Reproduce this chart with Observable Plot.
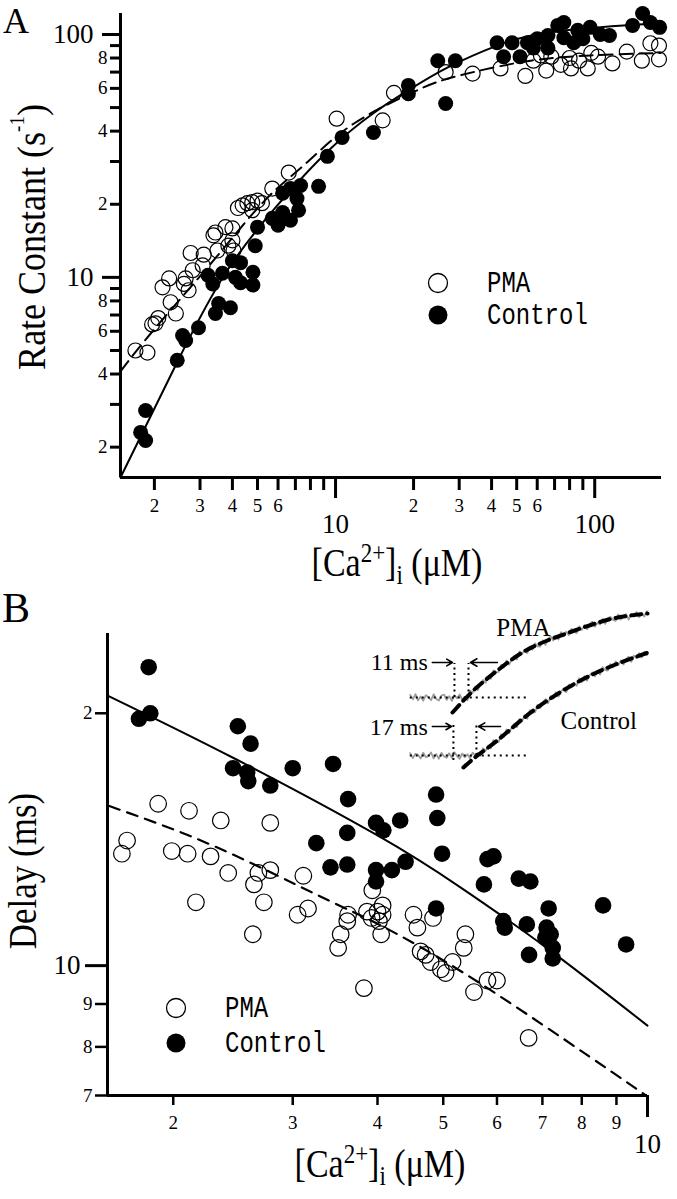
<!DOCTYPE html>
<html>
<head>
<meta charset="utf-8">
<script src="https://cdn.jsdelivr.net/npm/d3@7"></script>
<script src="https://cdn.jsdelivr.net/npm/@observablehq/plot@0.6"></script>
<style>
html,body{margin:0;padding:0;background:#fff;}
#fig{position:relative;width:677px;height:1199px;overflow:hidden;background:#fff;}
#fig > svg{position:absolute;}
</style>
</head>
<body>
<div id="fig"></div>
<script>
const serif = '"Liberation Serif", "Times New Roman", serif';
const mono = '"Liberation Mono", "DejaVu Sans Mono", monospace';
const seriesNames = ["PMA", "Control"];

// ---------- Panel A: rate constant (s^-1) vs [Ca2+]i (uM) ----------
const rateControl = [
  [1.85,2.83],[1.77,2.30],[1.85,2.13],[2.45,4.56],[2.57,5.76],[2.64,5.5],[2.96,6.2],[3.44,7.1],
  [3.93,7.5],[3.54,7.8],[3.36,9.4],[3.22,10.2],[3.66,10.4],[4.11,10.0],[4.3,11.5],[4.0,11.7],
  [4.8,10.5],[4.8,9.3],[4.3,9.5],[4.9,13.5],[5.0,16.1],[6.0,16.4],[5.7,17.5],[6.25,18.5],
  [7.2,18.9],[6.7,17.2],[6.25,22.2],[6.7,23.2],[7.33,23.9],[7.1,21.1],[8.6,23.7],[9.3,31.5],
  [10.6,37.7],[14,39.5],[19.1,61.7],[19.1,57],[26.6,52],[24.8,78],[29,78],[42,92.5],
  [48,92.5],[44.5,81],[51.5,81],[55,92.5],[60,96],[66,99],[72,109],[76,112],[76,97],
  [86,104],[90,96],[96,107],[105,100],[114,99],[140,109],[153,122],[164,112],[178,107],
  [58,88],[66,88],[83,92.5]
];
const ratePMA = [
  [1.69,5.0],[1.88,4.9],[2.02,6.47],[2.07,6.8],[1.96,6.4],[2.31,7.9],[2.42,7.1],[2.15,9.1],
  [2.28,9.9],[2.64,9.9],[2.71,8.85],[2.6,9.4],[2.81,10.7],[2.76,12.6],[3.1,12.4],[3.07,11.2],
  [3.38,14.9],[3.44,15.3],[3.5,12.9],[3.76,16.1],[4.0,15.9],[3.86,13.5],[4.0,14.2],[4.04,12.9],
  [4.38,19.8],[4.2,19.3],[4.57,20.2],[4.77,20.4],[4.77,18.9],[5.0,20.7],[5.2,20.2],[5.7,23.2],
  [6.6,27],[10.1,45],[15.2,44.3],[16.8,57.5],[26.6,70],[33.8,69],[43.3,72.5],[54,67.5],
  [58,78],[62,82],[65,71],[68,81],[74,75],[80,80],[81,72.5],[87,78],[94,72.5],[97,84],
  [103,81],[117,76],[133,85],[152,78],[164,92],[177,90],[177,79]
];
const rateFitControl = [[1.48,1.5],[2.47,4.56],[3.76,10.4],[5.87,19.4],[9.4,33.3],[14,47.4],[19.1,58.9],[27,73],[42,90],[66,102],[129,109],[180,111]];
const rateFitPMA = [[1.48,4.1],[2.02,6.2],[3.44,12.0],[5.35,20.8],[7.7,29.5],[11.7,42.8],[20,58],[25.5,64.5],[34,70],[56.6,78],[96.6,82],[180,84]];
const rateCaDomain = [1.48, 181];
const rateDomain = [1.5, 122];
const rateXMinorTicks = [2,3,4,5,6,7,8,9,20,30,40,50,60,70,80,90];
const rateXMinorLabels = ["2","3","4","5","6","","","","2","3","4","5","6","","",""];
const rateXMajorTicks = [10, 100];
const rateXMajorLabels = ["10", "100"];
const rateYMinorTicks = [2,3,4,5,6,7,8,9,20,30,40,50,60,70,80,90];
const rateYMinorLabels = ["2","","4","","6","","8","","2","","4","","6","","8",""];
const rateYMajorTicks = [10, 100];
const rateYMajorLabels = ["10", "100"];

// ---------- Panel B: delay (ms) vs [Ca2+]i (uM) ----------
const delayControl = [
  [1.84,22.7],[1.78,19.7],[1.85,20.0],[2.49,19.3],[2.60,18.4],[2.45,17.2],[2.57,17.0],[2.58,16.6],
  [2.78,16.4],[3.0,17.2],[3.44,17.4],[3.62,15.8],[3.61,14.4],[3.61,13.2],[3.25,14.0],[3.41,13.1],
  [3.98,14.8],[4.08,14.5],[4.32,14.9],[3.98,13.0],[3.98,12.6],[4.2,13.0],[4.4,13.3],[4.88,16.0],
  [4.9,15.0],[4.98,13.6],[5.81,13.4],[5.93,13.5],[5.74,12.5],[6.46,12.7],[6.72,12.6],[7.15,11.7],
  [8.6,11.8],[9.3,10.6],[4.88,11.7],[6.13,11.3],[6.16,11.1],[6.64,11.2],[7.1,11.1],[7.2,10.9],
  [7.07,10.8],[7.25,10.5],[7.25,10.2],[6.69,10.3]
];
const delayPMA = [
  [1.90,15.6],[2.11,15.3],[2.35,14.9],[2.78,14.8],[1.71,14.1],[1.68,13.6],[1.99,13.7],[2.10,13.6],
  [2.27,13.5],[2.41,12.9],[2.67,12.9],[2.78,13.0],[2.63,12.5],[2.72,11.9],[2.16,11.9],[2.62,10.9],
  [3.11,12.8],[3.05,11.5],[3.16,11.7],[3.62,11.5],[3.61,11.3],[3.53,10.9],[3.50,10.5],[3.82,9.4],
  [3.93,12.3],[3.86,11.6],[3.92,11.4],[4.0,11.6],[4.07,11.5],[4.05,10.9],[4.02,11.3],[4.07,11.8],
  [4.52,11.5],[4.58,11.1],[4.83,11.4],[4.63,10.4],[4.71,10.3],[4.79,10.1],[4.96,9.9],[5.04,9.8],
  [5.16,10.1],[5.39,10.9],[5.36,10.5],[5.55,9.3],[5.81,9.6],[6.0,9.6],[6.68,8.2]
];
const delayFitControl = [[1.6,21.0],[2.45,17.7],[4.0,14.3],[5.3,12.4],[7.1,10.5],[10,8.48]];
const delayFitPMA = [[1.61,15.5],[2.29,13.9],[3.29,12.1],[4.06,11.15],[5.36,9.8],[7.6,8.13],[9.95,7.0]];
const delayCaDomain = [1.6, 10];
const delayDomain = [7, 24.9];
const delayXMinorTicks = [2,3,4,5,6,7,8,9];
const delayXMinorLabels = ["2","3","4","5","6","7","8","9"];
const delayXMajorTicks = [10];
const delayXMajorLabels = ["10"];
const delayYMinorTicks = [7,8,9,20];
const delayYMinorLabels = ["7","8","9","2"];
const delayYMajorTicks = [10];
const delayYMajorLabels = ["10"];

// ---------- Inset: current traces (time in ms, current in a.u.), sampled every 2 ms ----------
const pmaTraceStart = -34, controlTraceStart = -34, traceStep = 2;
const pmaTraceValues = [
  42.8,40.6,43.2,40.1,42.0,39.9,42.7,41.7,40.2,43.1,40.8,40.0,42.5,42.9,40.3,42.1,39.8,42.6,41.1,43.0,40.5,41.8,40.1,
  45.0,43.8,47.0,45.2,48.3,50.3,49.0,52.0,50.8,55.0,54.2,54.3,57.8,56.5,60.0,58.0,60.4,62.2,60.5,64.5,
  63.2,65.4,63.7,67.0,65.4,68.6,67.1,67.0,70.1,67.8,70.8,72.0,70.0,72.0,70.5,74.2,72.1,74.4,72.7,75.8,
  74.4,73.7,77.1,75.3,77.7,75.6,78.0,79.4,76.9,78.9,78.0,80.8,78.3,81.1,81.8,80.3,79.8,83.0,80.5,82.2,
  83.2,80.5,83.3,82.0,84.2,81.7,83.9,82.0,84.6
];
const controlTraceValues = [
  13.7,11.2,13.4,12.8,11.0,13.9,11.6,12.3,14.0,11.1,13.2,10.9,13.8,12.0,11.4,13.6,11.3,14.1,12.2,10.8,13.5,11.7,13.1,11.0,13.9,12.4,
  13.8,12.4,16.1,14.9,17.5,16.1,20.2,19.1,19.3,23.1,21.8,25.5,23.6,26.6,28.4,26.7,30.7,29.7,32.5,30.9,
  35.1,33.8,34.2,37.8,36.2,39.0,40.6,38.6,42.2,40.9,44.1,42.0,44.5,46.0,44.2,47.9,46.6,48.9,47.4,51.1,
  49.3,52.1,49.9,52.7,54.1,52.1,54.7,53.0,56.7,55.2,55.0,58.2,56.5,59.5,57.7,60.0,58.0,60.6,61.9,59.3,
  62.4,61.2,63.7,61.5,64.2,62.7
];
const pmaFit = [[-1.5,34],[14.6,45],[33,55],[51,63.5],[71.5,70],[97,76],[122,81],[148.5,83.5]];
const controlFit = [[6.9,6.5],[17.7,12.5],[33,20],[51,30],[71.5,40],[97,50],[122,57.5],[149,64]];
const insetBaselines = [{v:41.5, t1:-34, t2:56}, {v:12.5, t1:-34, t2:56}];
const insetMarkers = [{t:0, v1:41.5, v2:58.5}, {t:10.8, v1:41.5, v2:58.5}, {t:-0.8, v1:10, v2:27.5}, {t:16.9, v1:12.5, v2:27.5}];
const insetArrows = [{x1:-17, x2:-1.5, y:59}, {x1:33, x2:12.3, y:59}, {x1:-17, x2:-2.3, y:27}, {x1:35.4, x2:18.5, y:27}];
const insetDelayLabels = [{t:-20.5, v:59, text:"11 ms"}, {t:-20.5, v:26.5, text:"17 ms"}];
const insetTraceLabels = [{t:53, v:76.5, text:"PMA"}, {t:111, v:30, text:"Control"}];
const insetTimeDomain = [-41.5, 158.5];
const insetCurrentDomain = [0, 90];

// ---------- helpers ----------
const fig = document.getElementById("fig");
function place(el, left, top) { el.style.left = left + "px"; el.style.top = top + "px"; fig.appendChild(el); }
const X = d => d[0], Y = d => d[1];
const lab = (ticks, labels) => d => labels[ticks.indexOf(d)];
const none = () => "";
const baseStyle = {fontFamily: serif, background: "transparent", color: "#000", overflow: "visible"};

function logAxes(o) {
  return [
    Plot.ruleX([o.xDomain[0]], {stroke: "#000", strokeWidth: 3}),
    Plot.ruleY([o.yDomain[0]], {stroke: "#000", strokeWidth: 3}),
    Plot.axisY(o.yMinor, {tickSize: o.yMinorSize, strokeWidth: o.minorWidth, tickFormat: none, label: null}),
    Plot.axisY(o.yMajor, {tickSize: o.yMajorSize, strokeWidth: 3, tickFormat: none, label: null}),
    Plot.axisX(o.xMinor, {tickSize: o.xMinorSize, strokeWidth: o.minorWidth, tickFormat: none, label: null}),
    Plot.axisX(o.xMajor, {tickSize: o.xMajorSize, strokeWidth: 3, tickFormat: none, label: null}),
    Plot.text(o.yMinor, {y: d => d, text: lab(o.yMinor, o.yMinorLabels), frameAnchor: "left", dx: -(o.yMinorSize + 3), textAnchor: "end", fontSize: 19, fill: "#000"}),
    Plot.text(o.yMajor, {y: d => d, text: lab(o.yMajor, o.yMajorLabels), frameAnchor: "left", dx: -(o.yMajorSize + o.yMajorPad), textAnchor: "end", fontSize: 27, fill: "#000"}),
    Plot.text(o.xMinor, {x: d => d, text: lab(o.xMinor, o.xMinorLabels), frameAnchor: "bottom", dy: o.xMinorSize + o.xMinorPad, lineAnchor: "top", fontSize: 19, fill: "#000"}),
    Plot.text(o.xMajor, {x: d => d, text: lab(o.xMajor, o.xMajorLabels), frameAnchor: "bottom", dy: o.xMajorSize + o.xMajorPad, lineAnchor: "top", fontSize: 27, fill: "#000"})
  ];
}

// ---------- Panel A ----------
const plotA = Plot.plot({
  width: 677, height: 590,
  marginLeft: 120, marginRight: 16, marginTop: 13, marginBottom: 113,
  x: {type: "log", domain: rateCaDomain},
  y: {type: "log", domain: rateDomain},
  style: baseStyle,
  marks: [
    Plot.line(rateFitControl, {x: X, y: Y, curve: "natural", stroke: "#000", strokeWidth: 2}),
    Plot.line(rateFitPMA, {x: X, y: Y, curve: "natural", stroke: "#000", strokeWidth: 2, strokeDasharray: "13,7"}),
    Plot.dot(ratePMA, {x: X, y: Y, r: 7.5, fill: "none", stroke: "#000", strokeWidth: 1.2}),
    Plot.dot(rateControl, {x: X, y: Y, r: 7.5, fill: "#000", stroke: "none"}),
    ...logAxes({
      xDomain: rateCaDomain, yDomain: rateDomain, minorWidth: 3,
      yMinor: rateYMinorTicks, yMinorLabels: rateYMinorLabels, yMinorSize: 10,
      yMajor: rateYMajorTicks, yMajorLabels: rateYMajorLabels, yMajorSize: 18, yMajorPad: 9,
      xMinor: rateXMinorTicks, xMinorLabels: rateXMinorLabels, xMinorSize: 13, xMinorPad: 8,
      xMajor: rateXMajorTicks, xMajorLabels: rateXMajorLabels, xMajorSize: 21, xMajorPad: 15
    })
  ]
});
place(plotA, 0, 0);

// ---------- Panel B ----------
const plotB = Plot.plot({
  width: 677, height: 609,
  marginLeft: 107, marginRight: 30, marginTop: 43, marginBottom: 104,
  x: {type: "log", domain: delayCaDomain},
  y: {type: "log", domain: delayDomain},
  style: baseStyle,
  marks: [
    Plot.line(delayFitControl, {x: X, y: Y, curve: "natural", stroke: "#000", strokeWidth: 2}),
    Plot.line(delayFitPMA, {x: X, y: Y, curve: "natural", stroke: "#000", strokeWidth: 2.2, strokeDasharray: "11,8"}),
    Plot.dot(delayPMA, {x: X, y: Y, r: 8.3, fill: "none", stroke: "#000", strokeWidth: 1.2}),
    Plot.dot(delayControl, {x: X, y: Y, r: 8.3, fill: "#000", stroke: "none"}),
    ...logAxes({
      xDomain: delayCaDomain, yDomain: delayDomain, minorWidth: 2.5,
      yMinor: delayYMinorTicks, yMinorLabels: delayYMinorLabels, yMinorSize: 12,
      yMajor: delayYMajorTicks, yMajorLabels: delayYMajorLabels, yMajorSize: 22, yMajorPad: 5,
      xMinor: delayXMinorTicks, xMinorLabels: delayXMinorLabels, xMinorSize: 10, xMinorPad: 10,
      xMajor: delayXMajorTicks, xMajorLabels: delayXMajorLabels, xMajorSize: 22, xMajorPad: 16
    })
  ]
});
place(plotB, 0, 590);

// ---------- Inset ----------
const pmaTrace = pmaTraceValues.map((v, i) => ({t: pmaTraceStart + i * traceStep, v}));
const controlTrace = controlTraceValues.map((v, i) => ({t: controlTraceStart + i * traceStep, v}));
const inset = Plot.plot({
  width: 260, height: 180, margin: 0,
  x: {domain: insetTimeDomain, axis: null},
  y: {domain: insetCurrentDomain, axis: null},
  style: baseStyle,
  marks: [
    Plot.line(pmaTrace, {x: "t", y: "v", stroke: "#9c9c9c", strokeWidth: 1.8}),
    Plot.line(controlTrace, {x: "t", y: "v", stroke: "#9c9c9c", strokeWidth: 1.8}),
    Plot.ruleY(insetBaselines, {y: "v", x1: "t1", x2: "t2", stroke: "#000", strokeWidth: 2, strokeDasharray: "2,4"}),
    Plot.ruleX(insetMarkers, {x: "t", y1: "v1", y2: "v2", stroke: "#000", strokeWidth: 2, strokeDasharray: "2,3.5"}),
    Plot.line(pmaFit, {x: X, y: Y, curve: "natural", stroke: "#000", strokeWidth: 4, strokeDasharray: "10,6"}),
    Plot.line(controlFit, {x: X, y: Y, curve: "natural", stroke: "#000", strokeWidth: 4, strokeDasharray: "10,6"}),
    Plot.arrow(insetArrows, {x1: "x1", x2: "x2", y1: "y", y2: "y", stroke: "#000", strokeWidth: 1.6, headLength: 7}),
    Plot.text(insetDelayLabels, {x: "t", y: "v", text: "text", textAnchor: "end", fontSize: 24, fill: "#000"}),
    Plot.text(insetTraceLabels, {x: "t", y: "v", text: "text", textAnchor: "middle", fontSize: 25, fill: "#000"})
  ]
});
place(inset, 400, 600);

// ---------- Titles, panel letters, legends ----------
const ov = d3.create("svg").attr("width", 677).attr("height", 1199)
  .style("left", "0px").style("top", "0px").style("pointer-events", "none");
ov.append("text").attr("x", 3).attr("y", 33).attr("font-family", serif).attr("font-size", 36).text("A");
ov.append("text").attr("x", 2).attr("y", 622).attr("font-family", serif).attr("font-size", 42).text("B");

function caTitle(x, y) {
  const t = ov.append("text").attr("transform", `translate(${x},${y}) scale(1,1.15)`)
    .attr("text-anchor", "middle").attr("font-family", serif).attr("font-size", 34);
  t.append("tspan").text("[Ca");
  t.append("tspan").attr("font-size", 23).attr("dy", -12).text("2+");
  t.append("tspan").attr("dy", 12).text("]");
  t.append("tspan").attr("font-size", 23).attr("dy", 7).text("i");
  t.append("tspan").attr("dy", -7).text(" (\u03bcM)");
}
caTitle(397, 576);
caTitle(380, 1177);

const yA = ov.append("text").attr("transform", "translate(45,237) rotate(-90) scale(1,1.12)")
  .attr("text-anchor", "middle").attr("font-family", serif).attr("font-size", 36);
yA.append("tspan").text("Rate Constant (s");
yA.append("tspan").attr("font-size", 19).attr("dy", -19).text("-1");
yA.append("tspan").attr("dy", 19).text(")");

ov.append("text").attr("transform", "translate(36,871) rotate(-90) scale(1,1.12)")
  .attr("text-anchor", "middle").attr("font-family", serif).attr("font-size", 35).text("Delay (ms)");

function legend(cx, cy, tx, gap) {
  ov.append("circle").attr("cx", cx).attr("cy", cy).attr("r", 9.5).attr("fill", "none").attr("stroke", "#000").attr("stroke-width", 1.3);
  ov.append("circle").attr("cx", cx).attr("cy", cy + gap).attr("r", 9.5).attr("fill", "#000");
  ov.append("text").attr("transform", `translate(${tx},${cy + 9}) scale(1,1.25)`).attr("font-family", mono).attr("font-size", 24).text(seriesNames[0]);
  ov.append("text").attr("transform", `translate(${tx},${cy + gap + 9}) scale(1,1.25)`).attr("font-family", mono).attr("font-size", 24).text(seriesNames[1]);
}
legend(438, 283, 487, 32);
legend(176, 1008, 225, 35);

fig.appendChild(ov.node());
</script>
</body>
</html>
